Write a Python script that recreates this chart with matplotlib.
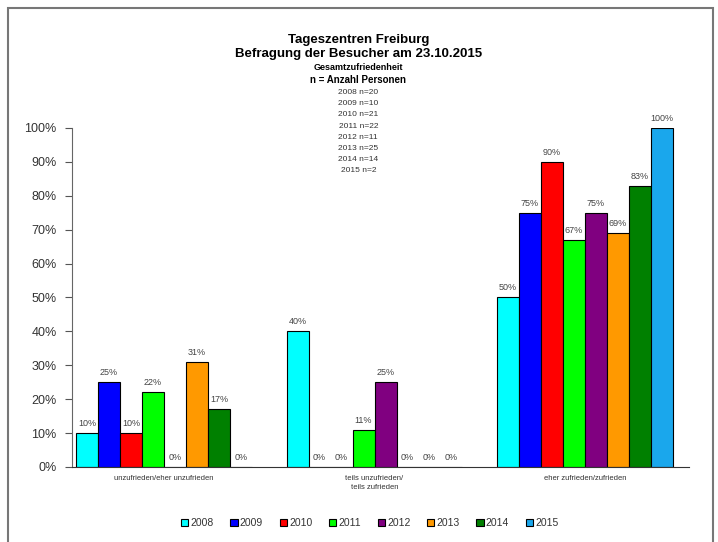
import matplotlib
matplotlib.use("Agg")
import matplotlib.pyplot as plt
import numpy as np
from matplotlib.patches import Rectangle

plt.rcParams['font.family'] = ['Liberation Sans', 'DejaVu Sans']

# data
categories = ["unzufrieden/eher unzufrieden", "teils unzufrieden/\nteils zufrieden", "eher zufrieden/zufrieden"]
years = ["2008", "2009", "2010", "2011", "2012", "2013", "2014", "2015"]
n_persons = [20, 10, 21, 22, 11, 25, 14, 2]
v2008 = [10, 40, 50]
v2009 = [25, 0, 75]
v2010 = [10, 0, 90]
v2011 = [22, 11, 67]
v2012 = [0, 25, 75]
v2013 = [31, 0, 69]
v2014 = [17, 0, 83]
v2015 = [0, 0, 100]
series = [v2008, v2009, v2010, v2011, v2012, v2013, v2014, v2015]
colors = ['#00FFFF', '#0000FF', '#FF0000', '#00FF00', '#800080', '#FF9900', '#008000', '#1AA7EC']

fig = plt.figure(figsize=(7.18, 5.42), dpi=100)
ax = fig.add_axes([0.1003, 0.1384, 0.8593, 0.6255])

x = np.arange(len(categories))
w = 0.1045
for i, (yr, vals) in enumerate(zip(years, series)):
    pos = x + (i - 3.5) * w
    ax.bar(pos, vals, w, color=colors[i], edgecolor='black', linewidth=0.8, label=yr)
    for p, v in zip(pos, vals):
        ax.text(p, v + 1.5, "%d%%" % v, ha='center', va='bottom', fontsize=6.5, color='#444444')

ax.set_xlim(-0.437, 2.494)
ax.set_ylim(0, 100)
ax.set_yticks(np.arange(0, 101, 10))
ax.set_yticklabels(["%d%%" % t for t in range(0, 101, 10)], fontsize=9, color='#333333')
ax.tick_params(axis='y', direction='out', length=5, color='#555555', pad=6)
ax.set_xticks(x)
ax.set_xticklabels(categories, fontsize=5.5, color='#333333', linespacing=1.4)
ax.tick_params(axis='x', length=0, pad=6)
ax.spines['top'].set_visible(False)
ax.spines['right'].set_visible(False)
ax.spines['left'].set_color('#666666')
ax.spines['bottom'].set_color('#333333')

# titles
fig.text(0.499, 0.926, "Tageszentren Freiburg", ha='center', va='center', fontsize=9.5, fontweight='bold')
fig.text(0.499, 0.900, "Befragung der Besucher am 23.10.2015", ha='center', va='center', fontsize=9.5, fontweight='bold')
fig.text(0.499, 0.875, "Gesamtzufriedenheit", ha='center', va='center', fontsize=6.5, fontweight='bold')
fig.text(0.499, 0.853, "n = Anzahl Personen", ha='center', va='center', fontsize=7, fontweight='bold')
for k, (yr, n) in enumerate(zip(years, n_persons)):
    fig.text(0.499, 0.829 - k * 0.0205, "%s n=%d" % (yr, n), ha='center', va='center', fontsize=6, color='#333333')

fig.legend(loc='center', bbox_to_anchor=(0.515, 0.035), ncol=8, fontsize=7.5, frameon=False,
           handlelength=0.7, handleheight=0.7, handletextpad=0.2, columnspacing=1.6,
           labelcolor='#333333')

# outer border
fig.patches.append(Rectangle((0.011, -0.02), 0.982, 1.005, transform=fig.transFigure,
                             fill=False, edgecolor='#777777', linewidth=1.5))

fig.savefig("out.png", dpi=100)
